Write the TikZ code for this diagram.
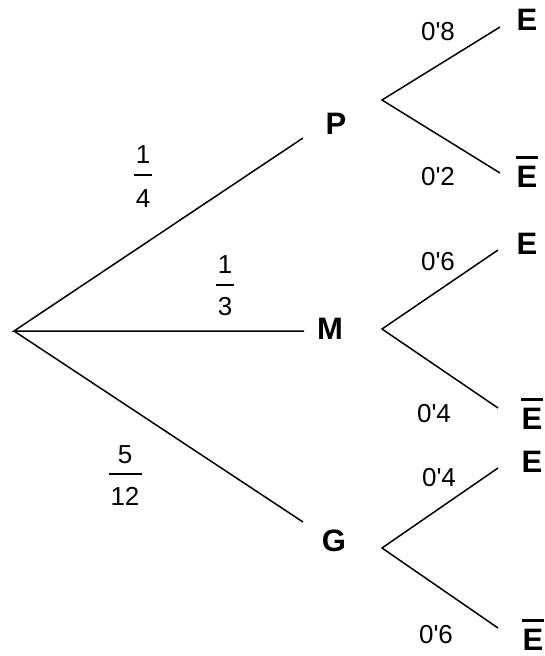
\documentclass[tikz,border=0pt]{standalone}
\usepackage{fontspec}
\setmainfont{Liberation Sans}[Ligatures=TeXOff]
\begin{document}
\begin{tikzpicture}[x=1pt,y=-1pt,
  branch/.style={line width=1.5pt, black},
  event/.style={font=\fontsize{31}{36}\selectfont\bfseries, inner sep=0pt, anchor=base},
  prob/.style={font=\fontsize{26}{30}\selectfont, inner sep=0pt, anchor=base},
  fbar/.style={line width=1.4pt},
  negbar/.style={line width=2.6pt}]
\useasboundingbox (0,0) rectangle (544,656);

% root and first-level branch ends
\coordinate (root) at (14,331);
\coordinate (toP) at (303,138);
\coordinate (toM) at (304,331);
\coordinate (toG) at (303,522);

% second-level forks
\coordinate (Pfork) at (382,100);
\coordinate (PE) at (500,27);
\coordinate (PnE) at (500,173);
\coordinate (Mfork) at (382,329);
\coordinate (ME) at (498,250);
\coordinate (MnE) at (498,408);
\coordinate (Gfork) at (382,548);
\coordinate (GE) at (498,468);
\coordinate (GnE) at (498,628);

% first-level events
\node[event] (P) at (336,134) {P};
\node[event] (M) at (330,339) {M};
\node[event] (G) at (334,551) {G};

% second-level events
\node[event] (e1) at (527,30) {E};
\node[event] (ne1) at (527,187) {E};
\node[event] (e2) at (527,254) {E};
\node[event] (ne2) at (532,429) {E};
\node[event] (e3) at (532,472) {E};
\node[event] (ne3) at (533,650) {E};
\foreach \n in {ne1,ne2,ne3}
  \draw[negbar] ([yshift=8pt]\n.north west) -- ([yshift=8pt]\n.north east);

% branches
\draw[branch] (toP) -- (root) -- (toM);
\draw[branch] (root) -- (toG);
\draw[branch] (PE) -- (Pfork) -- (PnE);
\draw[branch] (ME) -- (Mfork) -- (MnE);
\draw[branch] (GE) -- (Gfork) -- (GnE);

% first-level probabilities
\node[prob] (f1n) at (143,163) {1};
\node[prob] (f1d) at (143,207) {4};
\draw[fbar] (134,175) -- (152,175);
\node[prob] (f2n) at (225,273) {1};
\node[prob] (f2d) at (225,315) {3};
\draw[fbar] (216,285) -- (234,285);
\node[prob] (f3n) at (125,463) {5};
\node[prob] (f3d) at (125,505) {12};
\draw[fbar] (109,474) -- (142,474);

% second-level probabilities
\node[prob] (p1) at (438,40) {0'8};
\node[prob] (p2) at (438,185) {0'2};
\node[prob] (p3) at (438,270) {0'6};
\node[prob] (p4) at (434,422) {0'4};
\node[prob] (p5) at (439,486) {0'4};
\node[prob] (p6) at (436,643) {0'6};
\end{tikzpicture}
\end{document}
